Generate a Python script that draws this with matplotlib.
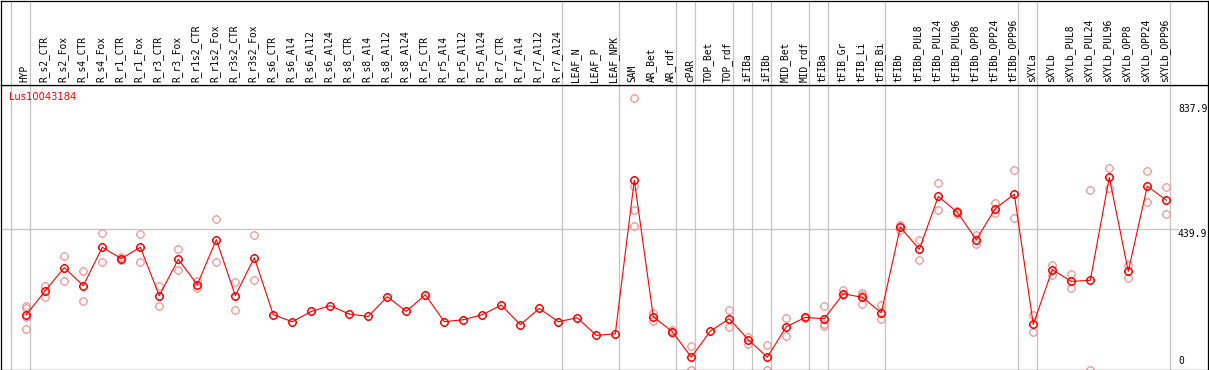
import matplotlib
matplotlib.use("Agg")
import matplotlib.pyplot as plt
from matplotlib.path import Path

gene = "Lus10043184"

samples = ["HYP", "R_s2_CTR", "R_s2_Fox", "R_s4_CTR", "R_s4_Fox", "R_r1_CTR", "R_r1_Fox",
           "R_r3_CTR", "R_r3_Fox", "R_r1s2_CTR", "R_r1s2_Fox", "R_r3s2_CTR", "R_r3s2_Fox",
           "R_s6_CTR", "R_s6_Al4", "R_s6_Al12", "R_s6_Al24", "R_s8_CTR", "R_s8_Al4",
           "R_s8_Al12", "R_s8_Al24", "R_r5_CTR", "R_r5_Al4", "R_r5_Al12", "R_r5_Al24",
           "R_r7_CTR", "R_r7_Al4", "R_r7_Al12", "R_r7_Al24", "LEAF_N", "LEAF_P", "LEAF_NPK",
           "SAM", "AR_Bet", "AR_rdf", "cPAR", "TOP_Bet", "TOP_rdf", "iFIBa", "iFIBb",
           "MID_Bet", "MID_rdf", "tFIBa", "tFIB_Gr", "tFIB_Li", "tFIB_Bi", "tFIBb",
           "tFIBb_PUL8", "tFIBb_PUL24", "tFIBb_PUL96", "tFIBb_OPP8", "tFIBb_OPP24",
           "tFIBb_OPP96", "sXYLa", "sXYLb", "sXYLb_PUL8", "sXYLb_PUL24", "sXYLb_PUL96",
           "sXYLb_OPP8", "sXYLb_OPP24", "sXYLb_OPP96"]

means = [171.0, 246.1, 318.0, 261.7, 381.4, 346.1, 381.4, 230.4, 343.9, 264.8, 405.5,
         230.4, 349.2, 171.0, 149.1, 181.3, 199.2, 172.9, 165.7, 227.3, 181.3, 233.5,
         149.1, 155.4, 171.0, 201.0, 139.8, 190.7, 149.1, 161.6, 106.3, 111.6, 590.9,
         164.8, 117.9, 38.5, 119.7, 158.5, 92.9, 38.5, 133.5, 162.6, 158.5, 236.7, 225.1,
         177.3, 444.0, 375.2, 540.0, 490.9, 405.5, 502.4, 547.1, 140.7, 311.7, 275.1,
         278.3, 599.4, 306.4, 572.2, 528.4]

replicates = [
    [199.2, 192.9, 163.5, 127.2], [261.7, 227.3], [355.5, 277.3], [308.6, 214.8],
    [427.4, 336.7], [351.1, 340.8], [424.3, 336.7], [261.7, 199.2], [377.4, 311.7],
    [276.1, 254.2], [471.2, 336.7], [274.2, 186.7], [421.1, 280.4],
    [], [], [], [], [], [], [], [], [], [], [], [], [], [], [], [], [], [], [],
    [846.4, 572.2, 499.3, 449.3], [177.3, 151.0], [121.9, 114.7], [74.1, 0.0], [],
    [186.7, 132.3], [101.0, 80.4], [77.2, 0.0], [161.6, 104.1], [164.8, 160.4],
    [199.2, 142.9, 135.4], [247.0, 231.4], [239.8, 231.4, 204.2], [200.1, 158.5],
    [452.4, 435.5], [405.5, 343.0], [581.5, 499.3], [496.2, 485.5], [419.9, 390.8],
    [519.0, 487.7], [622.2, 472.1], [168.8, 116.6], [327.3, 294.8], [298.0, 254.2],
    [559.6, 0.0], [627.5, 566.8], [325.2, 286.7], [619.0, 522.1], [569.0, 486.8]]

group_breaks = [-1, 0, 28, 31, 34, 35, 37, 38, 39, 41, 42, 45, 52, 53, 60]
y_ticks = [0, 439.9, 837.9]
y_tick_labels = ["0", "439.9", "837.9"]

W, H = 1209, 370
fig = plt.figure(figsize=(W / 100, H / 100), dpi=100)

X0, X1 = -1.332, 62.195
ax = fig.add_axes([1 / W, 0.5 / H, 1207 / W, 284.5 / H])
axh = fig.add_axes([1 / W, 285 / H, 1207 / W, 84.5 / H])

# custom marker: ring with four small ticks
R = 0.8
circ = Path.circle((0, 0), R)
spk = Path([(R, 0), (1, 0), (-R, 0), (-1, 0), (0, R), (0, 1), (0, -R), (0, -1)],
           [Path.MOVETO, Path.LINETO] * 4)
mk = Path.make_compound_path(circ, spk)

gray = "#c4c4c4"
for a in (ax, axh):
    a.set_xlim(X0, X1)
    for b in group_breaks:
        a.axvline(b + 4 / 19, color=gray, lw=0.9, zorder=1)
    a.set_xticks([])
    a.set_yticks([])
    for s in a.spines.values():
        s.set_linewidth(0.9)
        s.set_color("black")
        s.set_zorder(5)

ax.set_ylim(0, 888)
axh.set_ylim(0, 1)

xs = list(range(len(samples)))
ax.axhline(439.9, xmin=0, xmax=(1178 - 1) / 1207, color=gray, lw=0.9, zorder=1)

for i, reps in enumerate(replicates):
    if reps:
        ax.plot([i] * len(reps), reps, linestyle="none", marker=mk, markersize=6.6,
                mfc="none", mec="#ee9a9a", mew=0.9, zorder=2)

ax.plot(xs, means, color="red", lw=0.8, marker=mk, markersize=6.6, mfc="none",
        mec="red", mew=1.05, zorder=3)

for i, name in enumerate(samples):
    axh.text(i - 0.08, 0.03, name, rotation=90, ha="center", va="bottom",
             family="DejaVu Sans Mono", fontsize=6.9, color="black")

tx = (1178 - 1) / 1207
offs = {"0": 3, "439.9": 0, "837.9": -3}
for v, lab in zip(y_ticks, y_tick_labels):
    ax.annotate(lab, xy=(tx, v), xycoords=("axes fraction", "data"),
                xytext=(0, offs[lab]), textcoords="offset pixels",
                ha="left", va="bottom" if v == 0 else "top",
                family="DejaVu Sans Mono", fontsize=7)

fig.text(9 / W, 1 - 91.5 / H, gene, color="red", ha="left", va="top",
         family="DejaVu Sans", fontsize=7.1)

fig.savefig("out.png", dpi=100)
